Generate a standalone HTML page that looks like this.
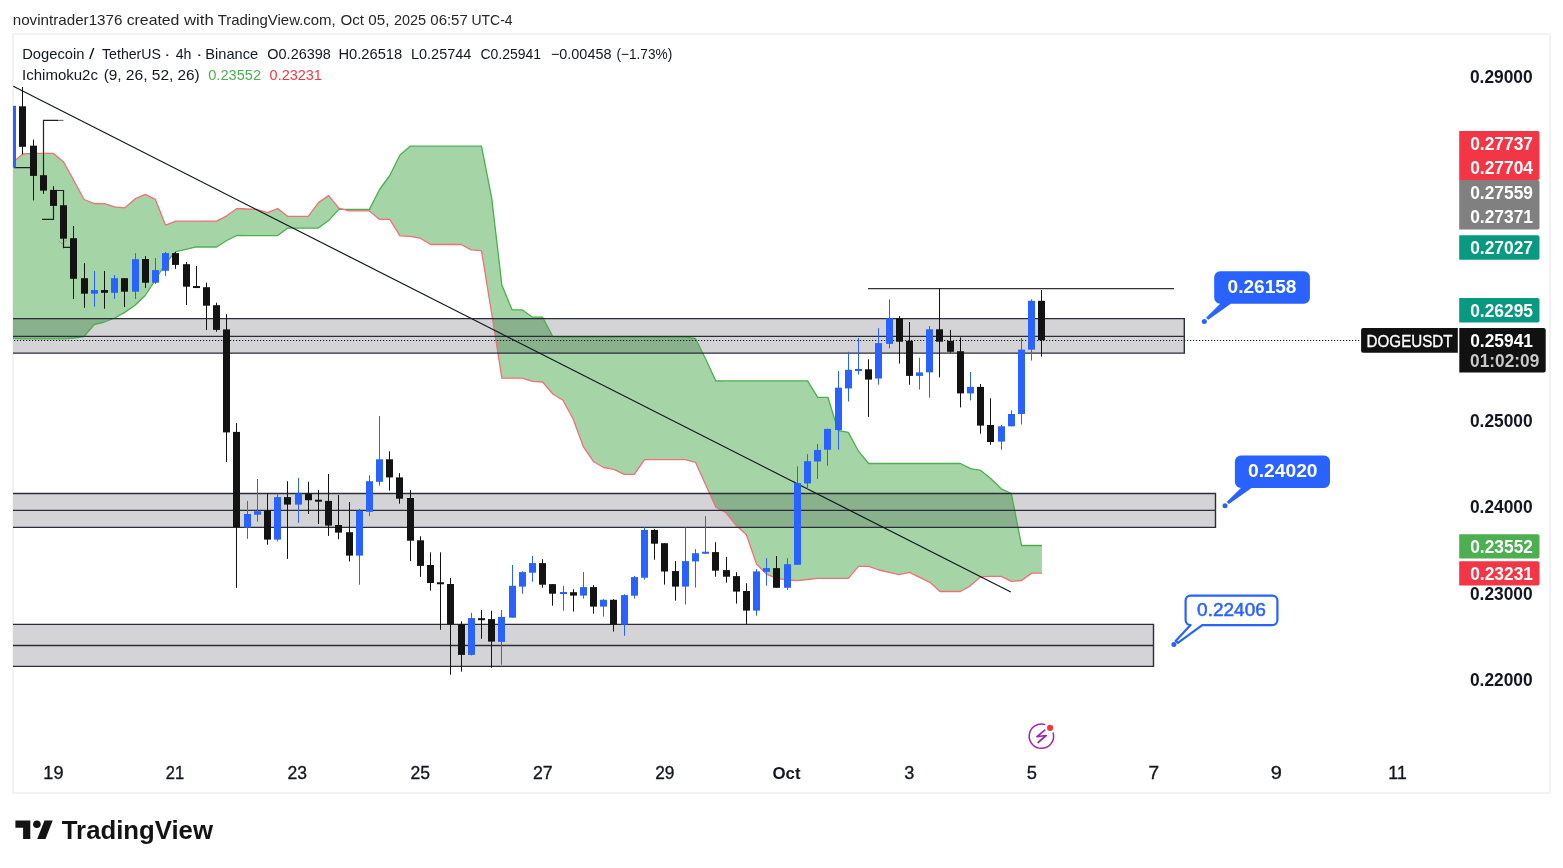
<!DOCTYPE html><html><head><meta charset="utf-8"><title>DOGEUSDT chart</title>
<style>html,body{margin:0;padding:0;background:#fff;}body{width:1563px;height:868px;overflow:hidden;position:relative;font-family:"Liberation Sans", sans-serif;}svg{position:absolute;left:0;top:0;will-change:transform;}</style>
</head><body>
<svg width="1563" height="868" viewBox="0 0 1563 868" font-family='"Liberation Sans", sans-serif'>
<defs><clipPath id="pane"><rect x="13" y="35" width="1441" height="720"/></clipPath></defs>
<g fill="#262626">
<text x="12.71" y="24.90" font-size="14.8" textLength="109.74" lengthAdjust="spacingAndGlyphs">novintrader1376</text>
<text x="126.67" y="24.90" font-size="14.8" textLength="52.77" lengthAdjust="spacingAndGlyphs">created</text>
<text x="183.90" y="24.90" font-size="14.8" textLength="29.85" lengthAdjust="spacingAndGlyphs">with</text>
<text x="217.70" y="24.90" font-size="14.8" textLength="118.01" lengthAdjust="spacingAndGlyphs">TradingView.com,</text>
<text x="340.42" y="24.90" font-size="14.8" textLength="23.57" lengthAdjust="spacingAndGlyphs">Oct</text>
<text x="368.29" y="24.90" font-size="14.8" textLength="21.07" lengthAdjust="spacingAndGlyphs">05,</text>
<text x="393.88" y="24.90" font-size="14.8" textLength="32.09" lengthAdjust="spacingAndGlyphs">2025</text>
<text x="430.30" y="24.90" font-size="14.8" textLength="37.49" lengthAdjust="spacingAndGlyphs">06:57</text>
<text x="471.45" y="24.90" font-size="14.8" textLength="41.16" lengthAdjust="spacingAndGlyphs">UTC-4</text>
</g>
<rect x="13" y="34" width="1537" height="759" fill="none" stroke="#f2f2f2" stroke-width="2"/>
<g clip-path="url(#pane)">
<rect x="10" y="318.6" width="1174.3" height="34.5" fill="#d4d4d7"/>
<rect x="10" y="493.5" width="1205.5" height="33.9" fill="#d4d4d7"/>
<rect x="10" y="624.4" width="1143.5" height="42" fill="#d4d4d7"/>
<polygon points="12.74,338.4 22.93,338.8 33.12,338.8 43.31,338.8 53.5,338.8 63.69,338.8 73.88,338 84.07,336.5 94.26,324.5 104.45,322 114.64,318 124.83,312.4 135.02,305.3 145.21,295.5 155.4,280 165.59,263 175.78,251.7 185.97,249.3 196.16,246.9 206.35,247 216.54,247 226.73,240.5 236.92,235.5 247.11,235.6 257.3,235.6 267.49,235.6 277.68,235.6 287.87,228.1 298.06,228.1 308.25,228.1 318.44,228.1 328.63,220.6 338.82,209.4 349.01,209.4 359.2,209.4 369.39,209.4 379.58,189.5 389.77,175.5 399.96,155 410.15,146.2 420.34,146.2 430.53,146.2 440.72,146.2 450.91,146.2 461.1,146.2 471.29,146.2 481.48,146.2 491.67,197.8 501.86,284.9 512.05,309.8 522.24,309.8 532.43,317.2 542.62,317.2 552.81,336.6 563,337 573.19,337 583.38,337 593.57,337 603.76,337 613.95,337 624.14,337 634.33,337 644.52,337 654.71,337 664.9,337 675.09,337 685.28,337 695.47,338.5 705.66,359 715.85,381 726.04,380.8 736.23,380.8 746.42,380.8 756.61,380.8 766.8,380.8 776.99,380.8 787.18,380.8 797.37,380.8 807.56,380.8 817.75,397.3 827.94,397.3 838.13,430.5 848.32,432.4 858.51,451.2 868.7,463.5 878.89,463.5 889.08,463.5 899.27,463.5 909.46,463.5 919.65,463.5 929.84,463.5 940.03,463.5 950.22,463.5 960.41,463.5 970.6,468.6 980.79,470.4 990.98,478.7 1001.17,488.8 1011.36,493.5 1021.55,545.5 1031.74,545.5 1041.93,545.5 1041.93,573.1 1031.74,573.1 1021.55,580.5 1011.36,581.4 1001.17,576.4 990.98,576.4 980.79,576.8 970.6,585.6 960.41,591.5 950.22,591.5 940.03,591.5 929.84,582.3 919.65,577.3 909.46,572.4 899.27,574.6 889.08,572.4 878.89,570 868.7,566.3 858.51,566.3 848.32,578.4 838.13,578.4 827.94,578.4 817.75,578.4 807.56,579.5 797.37,580.6 787.18,580 776.99,578.4 766.8,574.3 756.61,564.4 746.42,534.8 736.23,525.5 726.04,512.8 715.85,507.3 705.66,484.8 695.47,462.3 685.28,459.6 675.09,459.6 664.9,459.6 654.71,459.6 644.52,459.6 634.33,474.4 624.14,474.4 613.95,469.3 603.76,467.5 593.57,461.7 583.38,446.8 573.19,419.2 563,400.2 552.81,394 542.62,382 532.43,381.3 522.24,378.2 512.05,378.2 501.86,378.2 491.67,313.5 481.48,250.7 471.29,249.8 461.1,244.5 450.91,244.5 440.72,244.5 430.53,244.5 420.34,238.2 410.15,236.4 399.96,235.8 389.77,219.4 379.58,219.4 369.39,210.9 359.2,210.9 349.01,210.9 338.82,208.2 328.63,195.6 318.44,202.6 308.25,216.4 298.06,216.4 287.87,216.4 277.68,208.6 267.49,212.7 257.3,209.5 247.11,209 236.92,208.5 226.73,215.8 216.54,221.1 206.35,221.1 196.16,221.1 185.97,221.1 175.78,221.1 165.59,225.2 155.4,199.4 145.21,194.3 135.02,198.9 124.83,207.8 114.64,206.8 104.45,203.7 94.26,203.5 84.07,199.5 73.88,180.5 63.69,162.1 53.5,153.4 43.31,153.4 33.12,153.4 22.93,154 12.74,162.3" fill="#a5d5a6" style="mix-blend-mode:multiply"/>
<polyline points="12.74,338.4 22.93,338.8 33.12,338.8 43.31,338.8 53.5,338.8 63.69,338.8 73.88,338 84.07,336.5 94.26,324.5 104.45,322 114.64,318 124.83,312.4 135.02,305.3 145.21,295.5 155.4,280 165.59,263 175.78,251.7 185.97,249.3 196.16,246.9 206.35,247 216.54,247 226.73,240.5 236.92,235.5 247.11,235.6 257.3,235.6 267.49,235.6 277.68,235.6 287.87,228.1 298.06,228.1 308.25,228.1 318.44,228.1 328.63,220.6 338.82,209.4 349.01,209.4 359.2,209.4 369.39,209.4 379.58,189.5 389.77,175.5 399.96,155 410.15,146.2 420.34,146.2 430.53,146.2 440.72,146.2 450.91,146.2 461.1,146.2 471.29,146.2 481.48,146.2 491.67,197.8 501.86,284.9 512.05,309.8 522.24,309.8 532.43,317.2 542.62,317.2 552.81,336.6 563,337 573.19,337 583.38,337 593.57,337 603.76,337 613.95,337 624.14,337 634.33,337 644.52,337 654.71,337 664.9,337 675.09,337 685.28,337 695.47,338.5 705.66,359 715.85,381 726.04,380.8 736.23,380.8 746.42,380.8 756.61,380.8 766.8,380.8 776.99,380.8 787.18,380.8 797.37,380.8 807.56,380.8 817.75,397.3 827.94,397.3 838.13,430.5 848.32,432.4 858.51,451.2 868.7,463.5 878.89,463.5 889.08,463.5 899.27,463.5 909.46,463.5 919.65,463.5 929.84,463.5 940.03,463.5 950.22,463.5 960.41,463.5 970.6,468.6 980.79,470.4 990.98,478.7 1001.17,488.8 1011.36,493.5 1021.55,545.5 1031.74,545.5 1041.93,545.5" fill="none" stroke="#4caf50" stroke-width="1.3" stroke-linejoin="round"/>
<polyline points="12.74,162.3 22.93,154 33.12,153.4 43.31,153.4 53.5,153.4 63.69,162.1 73.88,180.5 84.07,199.5 94.26,203.5 104.45,203.7 114.64,206.8 124.83,207.8 135.02,198.9 145.21,194.3 155.4,199.4 165.59,225.2 175.78,221.1 185.97,221.1 196.16,221.1 206.35,221.1 216.54,221.1 226.73,215.8 236.92,208.5 247.11,209 257.3,209.5 267.49,212.7 277.68,208.6 287.87,216.4 298.06,216.4 308.25,216.4 318.44,202.6 328.63,195.6 338.82,208.2 349.01,210.9 359.2,210.9 369.39,210.9 379.58,219.4 389.77,219.4 399.96,235.8 410.15,236.4 420.34,238.2 430.53,244.5 440.72,244.5 450.91,244.5 461.1,244.5 471.29,249.8 481.48,250.7 491.67,313.5 501.86,378.2 512.05,378.2 522.24,378.2 532.43,381.3 542.62,382 552.81,394 563,400.2 573.19,419.2 583.38,446.8 593.57,461.7 603.76,467.5 613.95,469.3 624.14,474.4 634.33,474.4 644.52,459.6 654.71,459.6 664.9,459.6 675.09,459.6 685.28,459.6 695.47,462.3 705.66,484.8 715.85,507.3 726.04,512.8 736.23,525.5 746.42,534.8 756.61,564.4 766.8,574.3 776.99,578.4 787.18,580 797.37,580.6 807.56,579.5 817.75,578.4 827.94,578.4 838.13,578.4 848.32,578.4 858.51,566.3 868.7,566.3 878.89,570 889.08,572.4 899.27,574.6 909.46,572.4 919.65,577.3 929.84,582.3 940.03,591.5 950.22,591.5 960.41,591.5 970.6,585.6 980.79,576.8 990.98,576.4 1001.17,576.4 1011.36,581.4 1021.55,580.5 1031.74,573.1 1041.93,573.1" fill="none" stroke="#f0707a" stroke-width="1.3" stroke-linejoin="round"/>
<path d="M10 318.6 H1184.3 V353.1 H10 M10 336.4 H1184.3" fill="none" stroke="#2a2e39" stroke-width="1.4"/>
<path d="M10 493.5 H1215.5 V527.4 H10 M10 510.4 H1215.5" fill="none" stroke="#2a2e39" stroke-width="1.4"/>
<path d="M10 624.4 H1153.5 V666.4 H10 M10 645.5 H1153.5" fill="none" stroke="#2a2e39" stroke-width="1.4"/>
<line x1="14" y1="340.5" x2="1360" y2="340.5" stroke="#131722" stroke-width="1.2" stroke-dasharray="1.2 1.8"/>
<line x1="868" y1="288.6" x2="1174" y2="288.6" stroke="#333" stroke-width="1.3"/>
<line x1="13.3" y1="86.3" x2="1010.8" y2="592" stroke="#131722" stroke-width="1.2"/>
<path d="M14 167.6 H30.4 M43.5 175 V120.4 H58 M42 219.4 H53.5 V205.9 M53.5 190.5 H63.5 V205.2 M63.5 238.7 V247.3 H70.5" fill="none" stroke="#222" stroke-width="1.2"/>
<path d="M58 120.4 H63.5" stroke="#777" stroke-width="1.2"/>
<path d="M58.5 240.5 L62 244 L67 240" fill="none" stroke="#9a9a9a" stroke-width="1"/>
<rect x="12" y="105.8" width="1" height="61.8" fill="#2962ff"/>
<rect x="9" y="105.8" width="7" height="61.8" fill="#2962ff"/>
<rect x="22" y="87" width="1" height="67.4" fill="#131313"/>
<rect x="19" y="106.3" width="7" height="40.5" fill="#131313"/>
<rect x="33" y="139.6" width="1" height="60.8" fill="#131313"/>
<rect x="30" y="145.7" width="7" height="30.2" fill="#131313"/>
<rect x="43" y="175" width="1" height="18.9" fill="#131313"/>
<rect x="40" y="175.2" width="7" height="15.4" fill="#131313"/>
<rect x="53" y="186.2" width="1" height="19.7" fill="#131313"/>
<rect x="50" y="189.9" width="7" height="16" fill="#131313"/>
<rect x="63" y="205.2" width="1" height="43" fill="#131313"/>
<rect x="60" y="205.2" width="7" height="33.5" fill="#131313"/>
<rect x="73" y="226" width="1" height="72.9" fill="#131313"/>
<rect x="70" y="238.2" width="7" height="40.6" fill="#131313"/>
<rect x="84" y="263.2" width="1" height="44.6" fill="#131313"/>
<rect x="81" y="278.2" width="7" height="15.5" fill="#131313"/>
<rect x="94" y="270.9" width="1" height="35.8" fill="#2962ff"/>
<rect x="91" y="290" width="7" height="3.7" fill="#2962ff"/>
<rect x="104" y="270.9" width="1" height="37.8" fill="#131313"/>
<rect x="101" y="290" width="7" height="2.8" fill="#131313"/>
<rect x="114" y="275.1" width="1" height="23.8" fill="#2962ff"/>
<rect x="111" y="278.2" width="7" height="14.6" fill="#2962ff"/>
<rect x="124" y="278.2" width="1" height="28.8" fill="#131313"/>
<rect x="121" y="278.2" width="7" height="13.5" fill="#131313"/>
<rect x="135" y="253.2" width="1" height="45.7" fill="#2962ff"/>
<rect x="132" y="259.2" width="7" height="32.5" fill="#2962ff"/>
<rect x="145" y="256.1" width="1" height="31.8" fill="#131313"/>
<rect x="142" y="259" width="7" height="23.7" fill="#131313"/>
<rect x="155" y="258" width="1" height="25.9" fill="#2962ff"/>
<rect x="152" y="270.1" width="7" height="12.6" fill="#2962ff"/>
<rect x="165" y="251.9" width="1" height="24" fill="#2962ff"/>
<rect x="162" y="253.1" width="7" height="17.7" fill="#2962ff"/>
<rect x="175" y="251.9" width="1" height="17" fill="#131313"/>
<rect x="172" y="253.1" width="7" height="11.8" fill="#131313"/>
<rect x="186" y="262.1" width="1" height="42.9" fill="#131313"/>
<rect x="183" y="264.2" width="7" height="22.5" fill="#131313"/>
<rect x="196" y="266.1" width="1" height="21.9" fill="#131313"/>
<rect x="193" y="286.05" width="7" height="2" fill="#131313"/>
<rect x="206" y="282.6" width="1" height="47.3" fill="#131313"/>
<rect x="203" y="287.2" width="7" height="18.5" fill="#131313"/>
<rect x="216" y="302.7" width="1" height="29" fill="#131313"/>
<rect x="213" y="305.2" width="7" height="24.7" fill="#131313"/>
<rect x="226" y="314.2" width="1" height="147.9" fill="#131313"/>
<rect x="223" y="329.4" width="7" height="103" fill="#131313"/>
<rect x="236" y="423.1" width="1" height="164.7" fill="#131313"/>
<rect x="233" y="431.9" width="7" height="95.2" fill="#131313"/>
<rect x="247" y="500.9" width="1" height="37.9" fill="#2962ff"/>
<rect x="244" y="514" width="7" height="13.6" fill="#2962ff"/>
<rect x="257" y="479" width="1" height="42.7" fill="#2962ff"/>
<rect x="254" y="511.2" width="7" height="3.5" fill="#2962ff"/>
<rect x="267" y="493.6" width="1" height="51.1" fill="#131313"/>
<rect x="264" y="510.7" width="7" height="28.9" fill="#131313"/>
<rect x="277" y="493.6" width="1" height="47.8" fill="#2962ff"/>
<rect x="274" y="497.1" width="7" height="42.5" fill="#2962ff"/>
<rect x="287" y="481.2" width="1" height="77.7" fill="#131313"/>
<rect x="284" y="497.1" width="7" height="7.5" fill="#131313"/>
<rect x="298" y="477.9" width="1" height="44.9" fill="#2962ff"/>
<rect x="295" y="493.6" width="7" height="11" fill="#2962ff"/>
<rect x="308" y="481.8" width="1" height="32.2" fill="#131313"/>
<rect x="305" y="493.6" width="7" height="6.6" fill="#131313"/>
<rect x="318" y="489.9" width="1" height="34" fill="#131313"/>
<rect x="315" y="499.7" width="7" height="2" fill="#131313"/>
<rect x="328" y="473.9" width="1" height="62" fill="#131313"/>
<rect x="325" y="500.9" width="7" height="24.7" fill="#131313"/>
<rect x="338" y="495" width="1" height="44.2" fill="#131313"/>
<rect x="335" y="525" width="7" height="7.6" fill="#131313"/>
<rect x="349" y="502" width="1" height="59.5" fill="#131313"/>
<rect x="346" y="532.2" width="7" height="23.4" fill="#131313"/>
<rect x="359" y="509" width="1" height="75.7" fill="#2962ff"/>
<rect x="356" y="510.7" width="7" height="44.9" fill="#2962ff"/>
<rect x="369" y="475.3" width="1" height="40.9" fill="#2962ff"/>
<rect x="366" y="481.2" width="7" height="30.6" fill="#2962ff"/>
<rect x="379" y="416.1" width="1" height="69.4" fill="#2962ff"/>
<rect x="376" y="459.3" width="7" height="22.5" fill="#2962ff"/>
<rect x="389" y="451.2" width="1" height="39.4" fill="#131313"/>
<rect x="386" y="459.3" width="7" height="18.1" fill="#131313"/>
<rect x="399" y="473.1" width="1" height="30.6" fill="#131313"/>
<rect x="396" y="477.4" width="7" height="21.3" fill="#131313"/>
<rect x="410" y="490.1" width="1" height="71" fill="#131313"/>
<rect x="407" y="498" width="7" height="42.7" fill="#131313"/>
<rect x="420" y="536.3" width="1" height="40.5" fill="#131313"/>
<rect x="417" y="540.3" width="7" height="25.6" fill="#131313"/>
<rect x="430" y="552.3" width="1" height="38.3" fill="#131313"/>
<rect x="427" y="565" width="7" height="18" fill="#131313"/>
<rect x="440" y="552.3" width="1" height="77.5" fill="#131313"/>
<rect x="437" y="582.25" width="7" height="2" fill="#131313"/>
<rect x="450" y="578" width="1" height="96.7" fill="#131313"/>
<rect x="447" y="584" width="7" height="40.3" fill="#131313"/>
<rect x="461" y="621.2" width="1" height="50.4" fill="#131313"/>
<rect x="458" y="624.3" width="7" height="30.6" fill="#131313"/>
<rect x="471" y="612.9" width="1" height="42.5" fill="#2962ff"/>
<rect x="468" y="618.1" width="7" height="36.8" fill="#2962ff"/>
<rect x="481" y="610" width="1" height="28.8" fill="#131313"/>
<rect x="478" y="618.2" width="7" height="2" fill="#131313"/>
<rect x="491" y="610.8" width="1" height="57" fill="#131313"/>
<rect x="488" y="619.1" width="7" height="22.5" fill="#131313"/>
<rect x="501" y="610" width="1" height="54.7" fill="#2962ff"/>
<rect x="498" y="616.9" width="7" height="25" fill="#2962ff"/>
<rect x="512" y="565" width="1" height="52.7" fill="#2962ff"/>
<rect x="509" y="585.8" width="7" height="31.9" fill="#2962ff"/>
<rect x="522" y="571.2" width="1" height="22.5" fill="#2962ff"/>
<rect x="519" y="572.1" width="7" height="14.5" fill="#2962ff"/>
<rect x="532" y="555.9" width="1" height="25.8" fill="#2962ff"/>
<rect x="529" y="563.1" width="7" height="9.6" fill="#2962ff"/>
<rect x="542" y="559.2" width="1" height="28.5" fill="#131313"/>
<rect x="539" y="563.1" width="7" height="21.6" fill="#131313"/>
<rect x="552" y="584.1" width="1" height="21.6" fill="#131313"/>
<rect x="549" y="584.1" width="7" height="9.6" fill="#131313"/>
<rect x="563" y="585.9" width="1" height="24.7" fill="#2962ff"/>
<rect x="560" y="592" width="7" height="2" fill="#2962ff"/>
<rect x="573" y="589.2" width="1" height="22.4" fill="#131313"/>
<rect x="570" y="592.2" width="7" height="3.4" fill="#131313"/>
<rect x="583" y="572.1" width="1" height="26.5" fill="#2962ff"/>
<rect x="580" y="587.1" width="7" height="8.5" fill="#2962ff"/>
<rect x="593" y="585.1" width="1" height="28.5" fill="#131313"/>
<rect x="590" y="587.1" width="7" height="19.5" fill="#131313"/>
<rect x="603" y="599.1" width="1" height="17.5" fill="#2962ff"/>
<rect x="600" y="599.8" width="7" height="6.8" fill="#2962ff"/>
<rect x="613" y="599.1" width="1" height="32.5" fill="#131313"/>
<rect x="610" y="599.8" width="7" height="24.8" fill="#131313"/>
<rect x="624" y="594.2" width="1" height="41.6" fill="#2962ff"/>
<rect x="621" y="595.1" width="7" height="29.5" fill="#2962ff"/>
<rect x="634" y="575.9" width="1" height="22.7" fill="#2962ff"/>
<rect x="631" y="577.1" width="7" height="18.6" fill="#2962ff"/>
<rect x="644" y="527.2" width="1" height="52.4" fill="#2962ff"/>
<rect x="641" y="529.9" width="7" height="47.8" fill="#2962ff"/>
<rect x="654" y="529.2" width="1" height="30.5" fill="#131313"/>
<rect x="651" y="529.9" width="7" height="13.8" fill="#131313"/>
<rect x="664" y="543.2" width="1" height="41.4" fill="#131313"/>
<rect x="661" y="543.2" width="7" height="28.3" fill="#131313"/>
<rect x="675" y="561.1" width="1" height="39.5" fill="#131313"/>
<rect x="672" y="571.1" width="7" height="15.5" fill="#131313"/>
<rect x="685" y="527.3" width="1" height="77.2" fill="#2962ff"/>
<rect x="682" y="561.1" width="7" height="25.5" fill="#2962ff"/>
<rect x="695" y="549.1" width="1" height="38.5" fill="#2962ff"/>
<rect x="692" y="553.2" width="7" height="8.2" fill="#2962ff"/>
<rect x="705" y="516.2" width="1" height="37.5" fill="#2962ff"/>
<rect x="702" y="551.75" width="7" height="2" fill="#2962ff"/>
<rect x="715" y="542.2" width="1" height="34.5" fill="#131313"/>
<rect x="712" y="552.1" width="7" height="18.6" fill="#131313"/>
<rect x="726" y="556.9" width="1" height="25.8" fill="#131313"/>
<rect x="723" y="570.1" width="7" height="6.6" fill="#131313"/>
<rect x="736" y="572.2" width="1" height="31.4" fill="#131313"/>
<rect x="733" y="576.1" width="7" height="15.5" fill="#131313"/>
<rect x="746" y="583.2" width="1" height="41.1" fill="#131313"/>
<rect x="743" y="591" width="7" height="19.6" fill="#131313"/>
<rect x="756" y="569.2" width="1" height="46.4" fill="#2962ff"/>
<rect x="753" y="571.4" width="7" height="39.2" fill="#2962ff"/>
<rect x="766" y="558.2" width="1" height="27.4" fill="#2962ff"/>
<rect x="763" y="568.1" width="7" height="3.7" fill="#2962ff"/>
<rect x="776" y="556" width="1" height="31.8" fill="#131313"/>
<rect x="773" y="568.1" width="7" height="19.7" fill="#131313"/>
<rect x="787" y="558.2" width="1" height="31.8" fill="#2962ff"/>
<rect x="784" y="564.2" width="7" height="23.6" fill="#2962ff"/>
<rect x="797" y="466.3" width="1" height="98.5" fill="#2962ff"/>
<rect x="794" y="483.1" width="7" height="81.7" fill="#2962ff"/>
<rect x="807" y="454.2" width="1" height="35.1" fill="#2962ff"/>
<rect x="804" y="461.2" width="7" height="22.2" fill="#2962ff"/>
<rect x="817" y="443.9" width="1" height="35.1" fill="#2962ff"/>
<rect x="814" y="449.9" width="7" height="11.6" fill="#2962ff"/>
<rect x="827" y="428.5" width="1" height="37.2" fill="#2962ff"/>
<rect x="824" y="428.9" width="7" height="20.8" fill="#2962ff"/>
<rect x="838" y="370.9" width="1" height="78.8" fill="#2962ff"/>
<rect x="835" y="387.7" width="7" height="42.3" fill="#2962ff"/>
<rect x="848" y="351.8" width="1" height="49.7" fill="#2962ff"/>
<rect x="845" y="369.8" width="7" height="18.6" fill="#2962ff"/>
<rect x="858" y="338" width="1" height="36.6" fill="#2962ff"/>
<rect x="855" y="369" width="7" height="2" fill="#2962ff"/>
<rect x="868" y="359.3" width="1" height="57.6" fill="#131313"/>
<rect x="865" y="369.3" width="7" height="10.3" fill="#131313"/>
<rect x="878" y="328.2" width="1" height="56.5" fill="#2962ff"/>
<rect x="875" y="343.1" width="7" height="35.4" fill="#2962ff"/>
<rect x="889" y="299.3" width="1" height="49" fill="#2962ff"/>
<rect x="886" y="318.3" width="7" height="25.6" fill="#2962ff"/>
<rect x="899" y="316.1" width="1" height="47.5" fill="#131313"/>
<rect x="896" y="318.3" width="7" height="23.4" fill="#131313"/>
<rect x="909" y="322" width="1" height="62.7" fill="#131313"/>
<rect x="906" y="340.9" width="7" height="35" fill="#131313"/>
<rect x="919" y="357.7" width="1" height="31.8" fill="#2962ff"/>
<rect x="916" y="372.4" width="7" height="3.5" fill="#2962ff"/>
<rect x="929" y="326" width="1" height="71.8" fill="#2962ff"/>
<rect x="926" y="329.3" width="7" height="43.1" fill="#2962ff"/>
<rect x="939" y="288.3" width="1" height="89.1" fill="#131313"/>
<rect x="936" y="329.3" width="7" height="12.4" fill="#131313"/>
<rect x="950" y="329.9" width="1" height="22.8" fill="#131313"/>
<rect x="947" y="340.9" width="7" height="10.9" fill="#131313"/>
<rect x="960" y="337.4" width="1" height="70" fill="#131313"/>
<rect x="957" y="351.2" width="7" height="42.2" fill="#131313"/>
<rect x="970" y="372" width="1" height="28.4" fill="#2962ff"/>
<rect x="967" y="386.9" width="7" height="6.5" fill="#2962ff"/>
<rect x="980" y="384" width="1" height="49.7" fill="#131313"/>
<rect x="977" y="386.9" width="7" height="38.7" fill="#131313"/>
<rect x="990" y="398.2" width="1" height="46.5" fill="#131313"/>
<rect x="987" y="425" width="7" height="17" fill="#131313"/>
<rect x="1001" y="425" width="1" height="24.7" fill="#2962ff"/>
<rect x="998" y="426.3" width="7" height="15.3" fill="#2962ff"/>
<rect x="1011" y="410.3" width="1" height="16" fill="#2962ff"/>
<rect x="1008" y="414" width="7" height="12.3" fill="#2962ff"/>
<rect x="1021" y="338" width="1" height="86.5" fill="#2962ff"/>
<rect x="1018" y="349.6" width="7" height="64.4" fill="#2962ff"/>
<rect x="1031" y="299.3" width="1" height="61.3" fill="#2962ff"/>
<rect x="1028" y="300.8" width="7" height="48.8" fill="#2962ff"/>
<rect x="1041" y="289.9" width="1" height="66.7" fill="#131313"/>
<rect x="1038" y="300.8" width="7" height="39.4" fill="#131313"/>
</g>
<g fill="#131722">
<text x="22.22" y="59.00" font-size="14.6" textLength="62.24" lengthAdjust="spacingAndGlyphs">Dogecoin</text>
<text x="89.00" y="59.00" font-size="14.6" textLength="5.46" lengthAdjust="spacingAndGlyphs">/</text>
<text x="102.02" y="59.00" font-size="14.6" textLength="58.97" lengthAdjust="spacingAndGlyphs">TetherUS</text>
<text x="164.00" y="59.00" font-size="14.6" textLength="6.66" lengthAdjust="spacingAndGlyphs">·</text>
<text x="175.72" y="59.00" font-size="14.6" textLength="15.74" lengthAdjust="spacingAndGlyphs">4h</text>
<text x="196.10" y="59.00" font-size="14.6" textLength="6.66" lengthAdjust="spacingAndGlyphs">·</text>
<text x="205.33" y="59.00" font-size="14.6" textLength="52.81" lengthAdjust="spacingAndGlyphs">Binance</text>
<text x="267.35" y="59.00" font-size="14.6" textLength="63.47" lengthAdjust="spacingAndGlyphs">O0.26398</text>
<text x="338.42" y="59.00" font-size="14.6" textLength="63.80" lengthAdjust="spacingAndGlyphs">H0.26518</text>
<text x="410.94" y="59.00" font-size="14.6" textLength="60.51" lengthAdjust="spacingAndGlyphs">L0.25744</text>
<text x="480.40" y="59.00" font-size="14.6" textLength="60.66" lengthAdjust="spacingAndGlyphs">C0.25941</text>
<text x="550.88" y="59.00" font-size="14.6" textLength="60.58" lengthAdjust="spacingAndGlyphs">−0.00458</text>
<text x="616.38" y="59.00" font-size="14.6" textLength="55.85" lengthAdjust="spacingAndGlyphs">(−1.73%)</text>
<text x="22.05" y="79.90" font-size="14.6" textLength="75.89" lengthAdjust="spacingAndGlyphs">Ichimoku2c</text>
<text x="103.68" y="79.90" font-size="14.6" textLength="17.96" lengthAdjust="spacingAndGlyphs">(9,</text>
<text x="125.82" y="79.90" font-size="14.6" textLength="21.80" lengthAdjust="spacingAndGlyphs">26,</text>
<text x="151.78" y="79.90" font-size="14.6" textLength="21.62" lengthAdjust="spacingAndGlyphs">52,</text>
<text x="177.53" y="79.90" font-size="14.6" textLength="22.17" lengthAdjust="spacingAndGlyphs">26)</text>
<text x="208.22" y="79.90" font-size="14.6" textLength="52.81" lengthAdjust="spacingAndGlyphs" fill="#4caf50">0.23552</text>
<text x="269.62" y="79.90" font-size="14.6" textLength="52.23" lengthAdjust="spacingAndGlyphs" fill="#f23645">0.23231</text>
</g>
<g fill="#131722">
<text x="1469.91" y="82.72" font-size="17.6" font-weight="bold" textLength="62.79" lengthAdjust="spacingAndGlyphs">0.29000</text>
<text x="1469.91" y="427.28" font-size="17.6" font-weight="bold" textLength="62.79" lengthAdjust="spacingAndGlyphs">0.25000</text>
<text x="1469.91" y="513.42" font-size="17.6" font-weight="bold" textLength="62.79" lengthAdjust="spacingAndGlyphs">0.24000</text>
<text x="1469.91" y="599.56" font-size="17.6" font-weight="bold" textLength="62.79" lengthAdjust="spacingAndGlyphs">0.23000</text>
<text x="1469.91" y="685.70" font-size="17.6" font-weight="bold" textLength="62.79" lengthAdjust="spacingAndGlyphs">0.22000</text>
</g>
<path d="M1459.2 131 H1537.5 Q1539.5 131 1539.5 133 V178 Q1539.5 180 1537.5 180 H1459.2 Q1459.2 180 1459.2 180 V131 Q1459.2 131 1459.2 131 Z" fill="#f23645"/>
<path d="M1459.2 180 H1537.5 Q1539.5 180 1539.5 182 V227.5 Q1539.5 229.5 1537.5 229.5 H1459.2 Q1459.2 229.5 1459.2 229.5 V180 Q1459.2 180 1459.2 180 Z" fill="#808080"/>
<path d="M1459.2 235.2 H1537.5 Q1539.5 235.2 1539.5 237.2 V257.7 Q1539.5 259.7 1537.5 259.7 H1459.2 Q1459.2 259.7 1459.2 259.7 V235.2 Q1459.2 235.2 1459.2 235.2 Z" fill="#089981"/>
<path d="M1459.2 297.9 H1537.5 Q1539.5 297.9 1539.5 299.9 V320.6 Q1539.5 322.6 1537.5 322.6 H1459.2 Q1459.2 322.6 1459.2 322.6 V297.9 Q1459.2 297.9 1459.2 297.9 Z" fill="#089981"/>
<path d="M1459.2 534.3 H1537.5 Q1539.5 534.3 1539.5 536.3 V556.5 Q1539.5 558.5 1537.5 558.5 H1459.2 Q1459.2 558.5 1459.2 558.5 V534.3 Q1459.2 534.3 1459.2 534.3 Z" fill="#4caf50"/>
<path d="M1459.2 561.2 H1537.5 Q1539.5 561.2 1539.5 563.2 V583.4 Q1539.5 585.4 1537.5 585.4 H1459.2 Q1459.2 585.4 1459.2 585.4 V561.2 Q1459.2 561.2 1459.2 561.2 Z" fill="#f23645"/>
<path d="M1459.3 328 H1543.7 Q1545.7 328 1545.7 330 V370.5 Q1545.7 372.5 1543.7 372.5 H1459.3 Q1459.3 372.5 1459.3 372.5 V328 Q1459.3 328 1459.3 328 Z" fill="#111111"/>
<path d="M1363.1 328 H1457.8 Q1457.8 328 1457.8 328 V352.7 Q1457.8 352.7 1457.8 352.7 H1363.1 Q1361.1 352.7 1361.1 350.7 V330 Q1361.1 328 1363.1 328 Z" fill="#111111"/>
<g fill="#fff">
<text x="1470.21" y="149.90" font-size="17.6" font-weight="bold" textLength="62.79" lengthAdjust="spacingAndGlyphs">0.27737</text>
<text x="1470.21" y="174.00" font-size="17.6" font-weight="bold" textLength="62.79" lengthAdjust="spacingAndGlyphs">0.27704</text>
<text x="1470.21" y="198.60" font-size="17.6" font-weight="bold" textLength="62.79" lengthAdjust="spacingAndGlyphs">0.27559</text>
<text x="1470.21" y="223.40" font-size="17.6" font-weight="bold" textLength="62.79" lengthAdjust="spacingAndGlyphs">0.27371</text>
<text x="1470.21" y="253.80" font-size="17.6" font-weight="bold" textLength="62.79" lengthAdjust="spacingAndGlyphs">0.27027</text>
<text x="1470.21" y="316.90" font-size="17.6" font-weight="bold" textLength="62.79" lengthAdjust="spacingAndGlyphs">0.26295</text>
<text x="1470.21" y="347.00" font-size="17.6" font-weight="bold" textLength="62.79" lengthAdjust="spacingAndGlyphs">0.25941</text>
<text x="1470.21" y="552.80" font-size="17.6" font-weight="bold" textLength="62.79" lengthAdjust="spacingAndGlyphs">0.23552</text>
<text x="1470.21" y="579.70" font-size="17.6" font-weight="bold" textLength="62.79" lengthAdjust="spacingAndGlyphs">0.23231</text>
<text x="1470.11" y="366.80" font-size="17.6" textLength="69.15" lengthAdjust="spacingAndGlyphs" font-weight="bold" fill="#c8c8c8">01:02:09</text>
<text x="1366.59" y="346.60" font-size="17.2" textLength="85.95" lengthAdjust="spacingAndGlyphs" stroke="#fff" stroke-width="0.35">DOGEUSDT</text>
</g>
<g fill="#131722">
<text x="43.39" y="779.00" font-size="18.0" textLength="20.11" lengthAdjust="spacingAndGlyphs" stroke="#131722" stroke-width="0.35">19</text>
<text x="165.77" y="779.00" font-size="18.0" textLength="18.41" lengthAdjust="spacingAndGlyphs" stroke="#131722" stroke-width="0.35">21</text>
<text x="287.57" y="779.00" font-size="18.0" textLength="19.52" lengthAdjust="spacingAndGlyphs" stroke="#131722" stroke-width="0.35">23</text>
<text x="410.47" y="779.00" font-size="18.0" textLength="19.52" lengthAdjust="spacingAndGlyphs" stroke="#131722" stroke-width="0.35">25</text>
<text x="532.96" y="779.00" font-size="18.0" textLength="19.71" lengthAdjust="spacingAndGlyphs" stroke="#131722" stroke-width="0.35">27</text>
<text x="655.13" y="779.00" font-size="18.0" textLength="19.29" lengthAdjust="spacingAndGlyphs" stroke="#131722" stroke-width="0.35">29</text>
<text x="904.18" y="779.00" font-size="18.0" textLength="10.07" lengthAdjust="spacingAndGlyphs" stroke="#131722" stroke-width="0.35">3</text>
<text x="1026.72" y="779.00" font-size="18.0" textLength="10.19" lengthAdjust="spacingAndGlyphs" stroke="#131722" stroke-width="0.35">5</text>
<text x="1148.59" y="779.00" font-size="18.0" textLength="10.63" lengthAdjust="spacingAndGlyphs" stroke="#131722" stroke-width="0.35">7</text>
<text x="1270.65" y="779.00" font-size="18.0" textLength="11.12" lengthAdjust="spacingAndGlyphs" stroke="#131722" stroke-width="0.35">9</text>
<text x="1388.37" y="779.00" font-size="18.0" textLength="18.38" lengthAdjust="spacingAndGlyphs" stroke="#131722" stroke-width="0.35">11</text>
<text x="772.43" y="779.00" font-size="17.0" textLength="28.08" lengthAdjust="spacingAndGlyphs" font-weight="bold">Oct</text>
</g>
<path d="M1220.2 271.3 H1303.9 A6 6 0 0 1 1309.9 277.3 V297.8 A6 6 0 0 1 1303.9 303.8 H1230.8 L1208.3 319.8 L1206 317.8 L1220.2 303.8 A6 6 0 0 1 1214.2 297.8 V277.3 A6 6 0 0 1 1220.2 271.3 Z" fill="#2962ff"/>
<text x="1227.54" y="293.00" font-size="18" textLength="68.93" lengthAdjust="spacingAndGlyphs" font-weight="bold" fill="#fff">0.26158</text>
<circle cx="1204.3" cy="321.5" r="2.5" fill="#2962ff"/>
<path d="M1240.9 455.6 H1324 A6 6 0 0 1 1330 461.6 V482 A6 6 0 0 1 1324 488 H1251.5 L1229 504 L1226.7 502 L1240.9 488 A6 6 0 0 1 1234.9 482 V461.6 A6 6 0 0 1 1240.9 455.6 Z" fill="#2962ff"/>
<text x="1248.03" y="477.10" font-size="18" textLength="69.54" lengthAdjust="spacingAndGlyphs" font-weight="bold" fill="#fff">0.24020</text>
<circle cx="1225" cy="505.7" r="2.5" fill="#2962ff"/>
<path d="M1190.6 595.6 H1272.4 A5 5 0 0 1 1277.4 600.6 V620.1 A5 5 0 0 1 1272.4 625.1 H1202.2 L1177.9 642.9 L1175.6 640.9 L1190.6 625.1 A5 5 0 0 1 1185.6 620.1 V600.6 A5 5 0 0 1 1190.6 595.6 Z" fill="#fff" stroke="#2962ff" stroke-width="2.2" stroke-linejoin="round"/>
<text x="1197.14" y="615.80" font-size="18" textLength="68.72" lengthAdjust="spacingAndGlyphs" fill="#2962ff" stroke="#2962ff" stroke-width="0.5">0.22406</text>
<circle cx="1173.9" cy="644.6" r="2.5" fill="#2962ff"/>
<g transform="translate(1041.4 736.2)">
<path d="M3.9 -11.6 A12.2 12.2 0 1 0 11.6 -3.8" fill="none" stroke="#9c27b0" stroke-width="1.5"/>
<path d="M3.3 -6 L-4.4 0.4 L4.8 -0.7 L-3.3 6.3" fill="none" stroke="#9c27b0" stroke-width="1.7" stroke-linejoin="round" stroke-linecap="round"/>
<circle cx="8.7" cy="-8.4" r="3.1" fill="#f23645"/>
</g>
<g fill="#131313">
<path d="M15.4 820.4 H30.3 V838.9 H23.1 V827.7 H15.4 Z"/>
<circle cx="36.9" cy="824.2" r="3.8"/>
<path d="M44.5 820.4 H52.7 L45.5 838.9 H37.2 Z"/>
<text x="61.84" y="838.90" font-size="25.4" textLength="151.08" lengthAdjust="spacingAndGlyphs" font-weight="bold">TradingView</text>
</g>
</svg></body></html>
